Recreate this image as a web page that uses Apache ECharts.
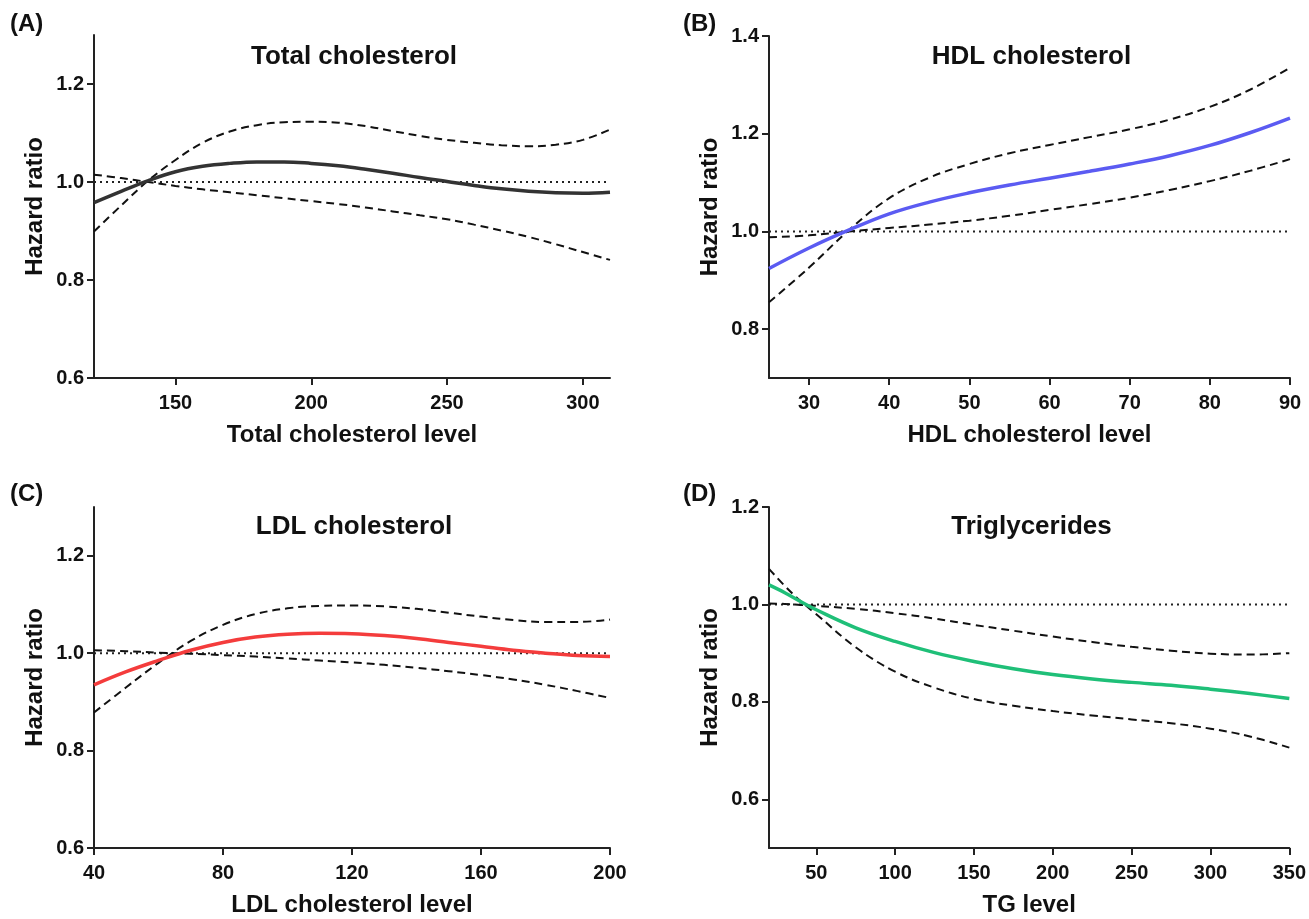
<!DOCTYPE html>
<html>
<head>
<meta charset="utf-8">
<script src="https://cdn.jsdelivr.net/npm/echarts@6/dist/echarts.min.js"></script>
<style>
html,body{margin:0;padding:0;background:#fff;}
#chart{width:1309px;height:919px;}
</style>
</head>
<body>
<div id="chart"></div>
<script>
// ---- Data ----
const tcX     = [120,130,140,150,160,170,180,190,200,210,220,230,240,250,260,270,280,290,300,310];
const tcHR    = [0.958,0.981,1.003,1.021,1.032,1.038,1.041,1.041,1.038,1.033,1.026,1.018,1.009,1.001,0.993,0.986,0.981,0.978,0.977,0.979];
const tcUpper = [0.899,0.952,1.003,1.045,1.080,1.103,1.116,1.122,1.123,1.121,1.114,1.104,1.094,1.086,1.080,1.075,1.073,1.076,1.086,1.107];
const tcLower = [1.015,1.008,1.000,0.992,0.985,0.979,0.973,0.967,0.961,0.955,0.948,0.940,0.932,0.924,0.913,0.901,0.888,0.873,0.857,0.841];

const hdlX     = [25,30,35,40,45,50,55,60,65,70,75,80,85,90];
const hdlHR    = [0.924,0.966,1.003,1.036,1.060,1.079,1.095,1.109,1.123,1.138,1.155,1.176,1.202,1.232];
const hdlUpper = [0.855,0.926,1.003,1.068,1.110,1.138,1.160,1.177,1.193,1.209,1.229,1.255,1.290,1.335];
const hdlLower = [0.988,0.992,1.000,1.007,1.014,1.022,1.032,1.044,1.056,1.069,1.085,1.103,1.124,1.148];

const ldlX     = [40,50,60,70,80,90,100,110,120,130,140,150,160,170,180,190,200];
const ldlHR    = [0.935,0.962,0.985,1.006,1.022,1.033,1.039,1.041,1.040,1.036,1.030,1.022,1.014,1.006,1.000,0.995,0.993];
const ldlUpper = [0.878,0.930,0.980,1.025,1.058,1.080,1.092,1.097,1.098,1.096,1.091,1.083,1.075,1.068,1.064,1.064,1.069];
const ldlLower = [1.006,1.004,1.001,0.999,0.996,0.993,0.989,0.985,0.981,0.976,0.970,0.963,0.955,0.946,0.935,0.922,0.908];

const tgX     = [20,30,40,50,75,100,125,150,175,200,225,250,275,300,325,350];
const tgHR    = [1.040,1.024,1.006,0.989,0.952,0.924,0.901,0.883,0.868,0.856,0.847,0.840,0.834,0.826,0.817,0.807];
const tgUpper = [1.002,1.001,0.999,0.997,0.991,0.982,0.971,0.958,0.946,0.934,0.923,0.913,0.905,0.899,0.897,0.900];
const tgLower = [1.073,1.038,1.007,0.980,0.912,0.862,0.829,0.806,0.792,0.781,0.772,0.764,0.756,0.745,0.729,0.706];

const refHR = 1.0;

const panelLetters = ['(A)','(B)','(C)','(D)'];
const panelTitles  = ['Total cholesterol','HDL cholesterol','LDL cholesterol','Triglycerides'];
const xNames       = ['Total cholesterol level','HDL cholesterol level','LDL cholesterol level','TG level'];
const yName        = 'Hazard ratio';

const xRanges = [[120,310],[25,90],[40,200],[20,350]];
const yRanges = [[0.6,1.3],[0.7,1.4],[0.6,1.3],[0.5,1.2]];
const xTicks  = [[150,200,250,300],[30,40,50,60,70,80,90],[40,80,120,160,200],[50,100,150,200,250,300,350]];
const yTicks  = [[0.6,0.8,1.0,1.2],[0.8,1.0,1.2,1.4],[0.6,0.8,1.0,1.2],[0.6,0.8,1.0,1.2]];

// ---- Chart ----
const FONT = '"Liberation Sans", Arial, Helvetica, sans-serif';
const lineColors = ['#333333','#5b5bf2','#f43c3c','#1fbf78'];
const panels = [
  {x: tcX, hr: tcHR, up: tcUpper, lo: tcLower},
  {x: hdlX, hr: hdlHR, up: hdlUpper, lo: hdlLower},
  {x: ldlX, hr: ldlHR, up: ldlUpper, lo: ldlLower},
  {x: tgX, hr: tgHR, up: tgUpper, lo: tgLower}
];
const grids = [
  {left: 94,  top: 35,  width: 516, height: 343},
  {left: 769, top: 36,  width: 521, height: 342},
  {left: 94,  top: 507, width: 516, height: 341},
  {left: 769, top: 507, width: 521, height: 341}
];
const letterPos = [[10,12],[683,12],[10,482],[683,482]];
const titleTop = [44, 44, 514, 514];

const zip = (xs, ys) => xs.map((v, i) => [v, ys[i]]);

const titles = [];
const xAxes = [], yAxes = [], series = [];
grids.forEach((g, i) => {
  titles.push({
    text: panelLetters[i], left: letterPos[i][0], top: letterPos[i][1], padding: 0,
    textStyle: {fontFamily: FONT, fontWeight: 'bold', fontSize: 24, color: '#111'}
  });
  titles.push({
    text: panelTitles[i], left: g.left + g.width / 2 + 2, top: titleTop[i], textAlign: 'center', padding: 0,
    textStyle: {fontFamily: FONT, fontWeight: 'bold', fontSize: 26, color: '#111'}
  });
  const axisLine = {show: true, onZero: false, lineStyle: {color: '#222', width: 2}};
  xAxes.push({
    type: 'value', gridIndex: i, min: xRanges[i][0], max: xRanges[i][1],
    name: xNames[i], nameLocation: 'middle', nameGap: 45,
    nameTextStyle: {fontFamily: FONT, fontWeight: 'bold', fontSize: 24, color: '#111'},
    axisLine: axisLine,
    axisTick: {show: true, length: 7, lineStyle: {color: '#222', width: 2}, customValues: xTicks[i]},
    axisLabel: {customValues: xTicks[i], margin: 15, fontFamily: FONT, fontWeight: 'bold', fontSize: 20, color: '#111'},
    splitLine: {show: false}
  });
  yAxes.push({
    type: 'value', gridIndex: i, min: yRanges[i][0], max: yRanges[i][1],
    name: yName, nameLocation: 'middle', nameGap: 47,
    nameTextStyle: {fontFamily: FONT, fontWeight: 'bold', fontSize: 24, color: '#111'},
    axisLine: axisLine,
    axisTick: {show: true, length: 7, lineStyle: {color: '#222', width: 2}, customValues: yTicks[i]},
    axisLabel: {customValues: yTicks[i], margin: 10, fontFamily: FONT, fontWeight: 'bold', fontSize: 20, color: '#111',
      formatter: v => Number(v).toFixed(1)},
    splitLine: {show: false}
  });
  const p = panels[i];
  const common = {type: 'line', xAxisIndex: i, yAxisIndex: i, showSymbol: false, symbol: 'none', silent: true, animation: false};
  series.push(Object.assign({}, common, {
    data: [[xRanges[i][0], refHR], [xRanges[i][1], refHR]],
    lineStyle: {color: '#222', width: 2, type: [2, 4]}, z: 1
  }));
  series.push(Object.assign({}, common, {
    data: zip(p.x, p.up), smooth: 0.4,
    lineStyle: {color: '#111', width: 2, type: [8, 5]}, z: 2
  }));
  series.push(Object.assign({}, common, {
    data: zip(p.x, p.lo), smooth: 0.4,
    lineStyle: {color: '#111', width: 2, type: [8, 5]}, z: 2
  }));
  series.push(Object.assign({}, common, {
    data: zip(p.x, p.hr), smooth: 0.4,
    lineStyle: {color: lineColors[i], width: 3.5}, z: 3
  }));
});

const chart = echarts.init(document.getElementById('chart'), null, {renderer: 'canvas'});
chart.setOption({
  backgroundColor: '#ffffff',
  animation: false,
  title: titles,
  grid: grids,
  xAxis: xAxes,
  yAxis: yAxes,
  series: series
});
</script>
</body>
</html>
